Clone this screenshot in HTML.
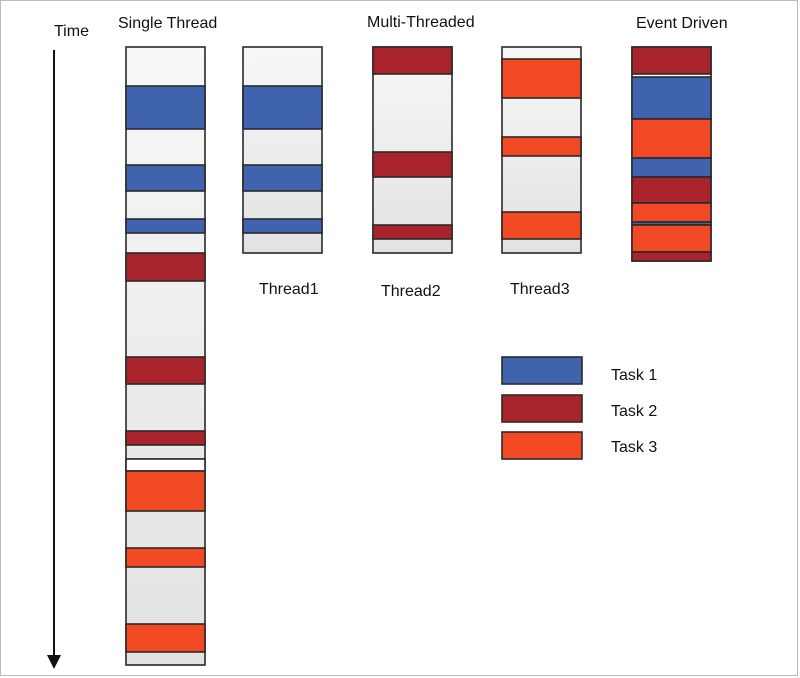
<!DOCTYPE html>
<html><head><meta charset="utf-8"><style>
html,body{margin:0;padding:0;background:#fff;}
svg{display:block;}
text{font-family:"Liberation Sans",Arial,sans-serif;fill:#111;}
</style></head><body>
<svg width="800" height="678" viewBox="0 0 800 678" xmlns="http://www.w3.org/2000/svg">
<defs>
<linearGradient id="g" x1="0" y1="0" x2="0" y2="1">
<stop offset="0" stop-color="#f7f7f7"/><stop offset="1" stop-color="#e2e2e2"/>
</linearGradient>
</defs>
<rect x="0.5" y="0.5" width="797" height="675" fill="#fff" stroke="#bbb"/>
<text x="54" y="36" font-size="16">Time</text>
<text x="118" y="28" font-size="16">Single Thread</text>
<text x="367" y="27" font-size="16">Multi-Threaded</text>
<text x="636" y="28" font-size="16">Event Driven</text>
<text x="259" y="294" font-size="16">Thread1</text>
<text x="381" y="296" font-size="16">Thread2</text>
<text x="510" y="294" font-size="16">Thread3</text>
<line x1="54" y1="50" x2="54" y2="656" stroke="#111" stroke-width="2"/>
<polygon points="47,655 61,655 54,669" fill="#111"/>
<g stroke="#2a2a2a" stroke-width="1.6">
<rect x="126" y="47" width="79" height="618" fill="url(#g)"/>
<rect x="126" y="86" width="79" height="43" fill="#3f63ad"/>
<rect x="126" y="165" width="79" height="26" fill="#3f63ad"/>
<rect x="126" y="219" width="79" height="14" fill="#3f63ad"/>
<rect x="126" y="253" width="79" height="28" fill="#a8232b"/>
<rect x="126" y="357" width="79" height="27" fill="#a8232b"/>
<rect x="126" y="431" width="79" height="14" fill="#a8232b"/>
<line x1="126" y1="459" x2="205" y2="459"/>
<rect x="126" y="459" width="79" height="12" fill="#fff"/>
<rect x="126" y="471" width="79" height="40" fill="#f04923"/>
<rect x="126" y="548" width="79" height="19" fill="#f04923"/>
<rect x="126" y="624" width="79" height="28" fill="#f04923"/>
<rect x="243" y="47" width="79" height="206" fill="url(#g)"/>
<rect x="243" y="86" width="79" height="43" fill="#3f63ad"/>
<rect x="243" y="165" width="79" height="26" fill="#3f63ad"/>
<rect x="243" y="219" width="79" height="14" fill="#3f63ad"/>
<rect x="373" y="47" width="79" height="206" fill="url(#g)"/>
<rect x="373" y="47" width="79" height="27" fill="#a8232b"/>
<rect x="373" y="152" width="79" height="25" fill="#a8232b"/>
<rect x="373" y="225" width="79" height="14" fill="#a8232b"/>
<rect x="502" y="47" width="79" height="206" fill="url(#g)"/>
<rect x="502" y="59" width="79" height="39" fill="#f04923"/>
<rect x="502" y="137" width="79" height="19" fill="#f04923"/>
<rect x="502" y="212" width="79" height="27" fill="#f04923"/>
<rect x="632" y="47" width="79" height="214" fill="#fff"/>
<rect x="632" y="47" width="79" height="27" fill="#a8232b"/>
<rect x="632" y="77" width="79" height="42" fill="#3f63ad"/>
<rect x="632" y="119" width="79" height="39" fill="#f04923"/>
<rect x="632" y="158" width="79" height="19" fill="#3f63ad"/>
<rect x="632" y="177" width="79" height="26" fill="#a8232b"/>
<rect x="632" y="203" width="79" height="19" fill="#f04923"/>
<rect x="632" y="222" width="79" height="3" fill="#3f63ad"/>
<rect x="632" y="225" width="79" height="27" fill="#f04923"/>
<rect x="632" y="252" width="79" height="9" fill="#a8232b"/>
<rect x="502" y="357" width="80" height="27" fill="#3f63ad"/>
<rect x="502" y="395" width="80" height="27" fill="#a8232b"/>
<rect x="502" y="432" width="80" height="27" fill="#f04923"/>
</g>
<text x="611" y="380" font-size="16">Task 1</text>
<text x="611" y="416" font-size="16">Task 2</text>
<text x="611" y="452" font-size="16">Task 3</text>
</svg>
</body></html>
